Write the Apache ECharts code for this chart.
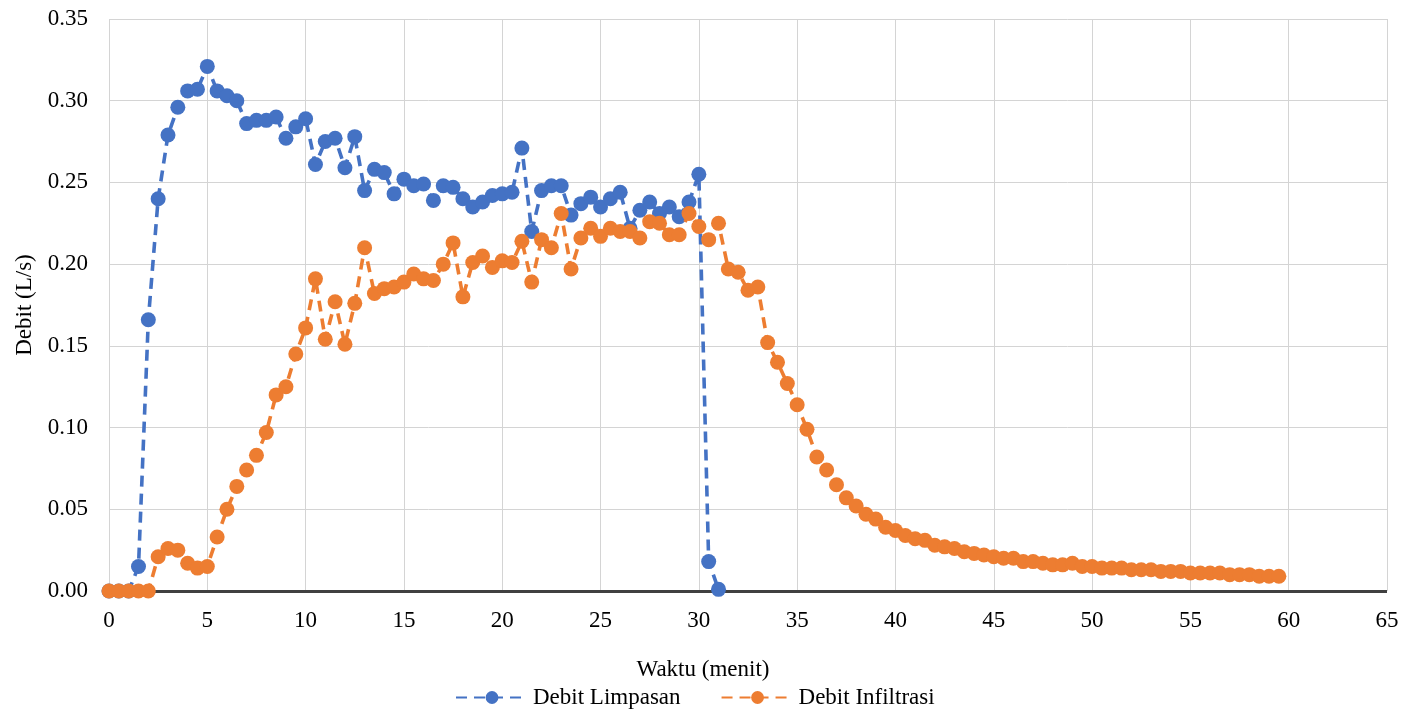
<!DOCTYPE html>
<html>
<head>
<meta charset="utf-8">
<script src="https://cdn.jsdelivr.net/npm/echarts@6/dist/echarts.min.js"></script>
<style>
html,body{margin:0;padding:0;background:#fff;}
#chart{width:1404px;height:714px;}
</style>
</head>
<body>
<div id="chart"></div>
<script>
// Time step (minutes) of each reading, 0.5 min apart
const limpasanTime = [0,0.5,1,1.5,2,2.5,3,3.5,4,4.5,5,5.5,6,6.5,7,7.5,8,8.5,9,9.5,10,10.5,11,11.5,12,12.5,13,13.5,14,14.5,15,15.5,16,16.5,17,17.5,18,18.5,19,19.5,20,20.5,21,21.5,22,22.5,23,23.5,24,24.5,25,25.5,26,26.5,27,27.5,28,28.5,29,29.5,30,30.5,31];
const debitLimpasan = [0,0,0,0.015,0.166,0.240,0.279,0.296,0.306,0.307,0.321,0.306,0.303,0.300,0.286,0.288,0.288,0.290,0.277,0.284,0.289,0.261,0.275,0.277,0.259,0.278,0.245,0.258,0.256,0.243,0.252,0.248,0.249,0.239,0.248,0.247,0.240,0.235,0.238,0.242,0.243,0.244,0.271,0.220,0.245,0.248,0.248,0.230,0.237,0.241,0.235,0.240,0.244,0.222,0.233,0.238,0.231,0.235,0.229,0.238,0.255,0.018,0.001];

const infiltrasiTime = [0,0.5,1,1.5,2,2.5,3,3.5,4,4.5,5,5.5,6,6.5,7,7.5,8,8.5,9,9.5,10,10.5,11,11.5,12,12.5,13,13.5,14,14.5,15,15.5,16,16.5,17,17.5,18,18.5,19,19.5,20,20.5,21,21.5,22,22.5,23,23.5,24,24.5,25,25.5,26,26.5,27,27.5,28,28.5,29,29.5,30,30.5,31,31.5,32,32.5,33,33.5,34,34.5,35,35.5,36,36.5,37,37.5,38,38.5,39,39.5,40,40.5,41,41.5,42,42.5,43,43.5,44,44.5,45,45.5,46,46.5,47,47.5,48,48.5,49,49.5,50,50.5,51,51.5,52,52.5,53,53.5,54,54.5,55,55.5,56,56.5,57,57.5,58,58.5,59,59.5];
const debitInfiltrasi = [0,0,0,0,0,0.021,0.026,0.025,0.017,0.014,0.015,0.033,0.050,0.064,0.074,0.083,0.097,0.120,0.125,0.145,0.161,0.191,0.154,0.177,0.151,0.176,0.210,0.182,0.185,0.186,0.189,0.194,0.191,0.190,0.200,0.213,0.180,0.201,0.205,0.198,0.202,0.201,0.214,0.189,0.215,0.210,0.231,0.197,0.216,0.222,0.217,0.222,0.220,0.220,0.216,0.226,0.225,0.218,0.218,0.231,0.223,0.215,0.225,0.197,0.195,0.184,0.186,0.152,0.140,0.127,0.114,0.099,0.082,0.074,0.065,0.057,0.052,0.047,0.044,0.039,0.037,0.034,0.032,0.031,0.028,0.027,0.026,0.024,0.023,0.022,0.021,0.020,0.020,0.018,0.018,0.017,0.016,0.016,0.017,0.015,0.015,0.014,0.014,0.014,0.013,0.013,0.013,0.012,0.012,0.012,0.011,0.011,0.011,0.011,0.010,0.010,0.010,0.009,0.009,0.009];

const seriesNames = ['Debit Limpasan','Debit Infiltrasi'];
const xTitle = 'Waktu (menit)';
const yTitle = 'Debit (L/s)';

const pair = (xs, ys) => xs.map((x, i) => [x, ys[i]]);
const font = 'Liberation Serif, Times New Roman, serif';
const fs = 23;

const chart = echarts.init(document.getElementById('chart'), null, {renderer:'canvas'});
chart.setOption({
  animation:false,
  backgroundColor:'#ffffff',
  textStyle:{fontFamily:font},
  grid:{left:109,right:17,top:19,bottom:123,containLabel:false},
  xAxis:{
    type:'value',min:0,max:65,interval:5,
    name:xTitle,nameLocation:'middle',nameGap:67,
    nameTextStyle:{fontFamily:font,fontSize:fs,color:'#000',padding:[0,90,0,0]},
    axisLine:{show:false},
    axisTick:{show:false},
    axisLabel:{fontFamily:font,fontSize:fs,color:'#000',margin:18},
    splitLine:{show:true,lineStyle:{color:'#d4d4d4',width:1}}
  },
  yAxis:{
    type:'value',min:0,max:0.35,interval:0.05,
    name:yTitle,nameLocation:'middle',nameGap:71,nameRotate:90,
    nameTextStyle:{fontFamily:font,fontSize:fs,color:'#000'},
    axisLine:{show:false},
    axisTick:{show:false},
    axisLabel:{fontFamily:font,fontSize:fs,color:'#000',margin:21,
      formatter:v=>v.toFixed(2)},
    splitLine:{show:true,lineStyle:{color:'#d4d4d4',width:1}}
  },
  legend:{
    bottom:0,left:450,
    itemWidth:72,itemHeight:16,itemGap:40,
    textStyle:{fontFamily:font,fontSize:fs,color:'#000'},
    data:seriesNames
  },
  series:[
    {
      name:seriesNames[0],type:'line',data:pair(limpasanTime,debitLimpasan),
      symbol:'circle',symbolSize:15,
      itemStyle:{color:'#4472C4'},
      lineStyle:{color:'#4472C4',width:3.6,type:[11,7]},
      z:2,
      markLine:{
        silent:true,symbol:'none',label:{show:false},
        lineStyle:{color:'#404040',width:3,type:'solid'},
        data:[{yAxis:0}],z:1
      }
    },
    {
      name:seriesNames[1],type:'line',data:pair(infiltrasiTime,debitInfiltrasi),
      symbol:'circle',symbolSize:15,
      itemStyle:{color:'#ED7D31'},
      lineStyle:{color:'#ED7D31',width:3.6,type:[11,7]},
      z:3
    }
  ]
});
</script>
</body>
</html>
